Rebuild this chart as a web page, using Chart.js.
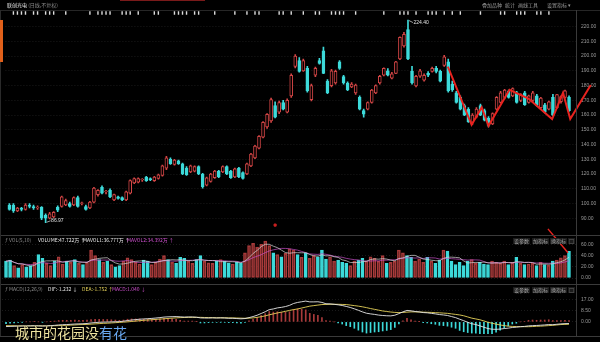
<!DOCTYPE html>
<html><head><meta charset="utf-8">
<script src="https://cdn.jsdelivr.net/npm/chart.js@4.4.1/dist/chart.umd.min.js"></script>
<style>
html,body{margin:0;padding:0;background:#000;width:600px;height:342px;overflow:hidden;}
#wrap{position:relative;width:600px;height:342px;background:#000;font-family:"Noto Sans CJK SC","Liberation Sans",sans-serif;}
canvas{position:absolute;left:0;}
.t{position:absolute;white-space:nowrap;font-size:5px;line-height:6px;color:#9a9a9a;}
.ln{position:absolute;background:#3a3a3a;}
.btn{position:absolute;font-size:5px;line-height:6px;color:#aaa;background:#1b1b1b;padding:0 1px;white-space:nowrap;}
#wm{position:absolute;left:15px;top:324px;font-size:14px;line-height:17px;font-family:"Noto Sans CJK SC",sans-serif;text-shadow:0 0 2px #000,1px 1px 1px #000;white-space:nowrap;}
</style></head>
<body><div id="wrap">
<canvas id="main" width="600" height="237" style="top:0"></canvas>
<canvas id="vol" width="600" height="60" style="top:226px"></canvas>
<canvas id="macd" width="600" height="58" style="top:284px"></canvas>

<div class="ln" style="left:0;top:10px;width:600px;height:1px;background:#262626"></div>
<div class="ln" style="left:0;top:235px;width:600px;height:1px"></div>
<div class="ln" style="left:0;top:284px;width:600px;height:1px"></div>
<div class="ln" style="left:0;top:336px;width:600px;height:1px"></div>
<div class="ln" style="left:576px;top:10px;width:1px;height:326px"></div>
<div class="ln" style="left:0;top:10px;width:1px;height:326px;background:#2a2a2a"></div>
<div class="ln" style="left:0;top:20px;width:3px;height:42px;background:#e0601a"></div>
<div class="ln" style="left:120px;top:0;width:85px;height:1px;background:#7a1a1a"></div>

<div class="t" style="left:7px;top:2px;color:#e6e6e6">联创光电 <span style="color:#8a8a8a">(日线,不复权)</span></div>
<div class="t" style="left:482px;top:2px">叠加品种</div>
<div class="t" style="left:505px;top:2px">统计</div>
<div class="t" style="left:518px;top:2px">画线工具</div>
<div class="t" style="left:547px;top:2px">设置指标 ▾</div>

<div class="t" style="left:5px;top:237px;color:#8a8a8a">ƒ VOL(5,10)</div>
<div class="t" style="left:38px;top:237px;color:#e8e8e8">VOLUME:47.722万 ↑</div>
<div class="t" style="left:83px;top:237px;color:#e8e8e8">MAVOL1:36.777万 ↑</div>
<div class="t" style="left:127px;top:237px;color:#d050d0">MAVOL2:34.392万 ↑</div>
<div class="btn" style="left:513px;top:238px">设参数</div>
<div class="btn" style="left:532px;top:238px">加指标</div>
<div class="btn" style="left:550px;top:238px">换指标</div>
<div class="btn" style="left:568px;top:238px">□</div>

<div class="t" style="left:5px;top:286px;color:#8a8a8a">ƒ MACD(12,26,9)</div>
<div class="t" style="left:48px;top:286px;color:#e8e8e8">DIF:-1.232 ↓</div>
<div class="t" style="left:82px;top:286px;color:#e6d35a">DEA:-1.752 ↑</div>
<div class="t" style="left:112px;top:286px;color:#d050d0">MACD:1.040 ↓</div>
<div class="btn" style="left:513px;top:287px">设参数</div>
<div class="btn" style="left:532px;top:287px">加指标</div>
<div class="btn" style="left:550px;top:287px">换指标</div>
<div class="btn" style="left:568px;top:287px">□</div>

<div id="wm"><span style="color:#efe4a0">城市的花园没</span><span style="color:#6aa8f0">有花</span></div>
</div>
<script>
// ---------- data ----------
const opens  = [99,99,95,97,96,99,98,97,97.5,92, 90,91,97.5,98,99,100,99,104,100,98, 97,101,106,111,108,109,102.5,104.5,104,102.5,
  107,114,114.5,116,118,117,115.5,117,119,124, 130,126.5,129,127,124,121.5,122,125,120,112.5, 115,117.5,122,121.5,125,122,118,124,121,120,
  125.5,131,137.5,145,152,156,166.5,162,168.5,162, 173,193,197,190,191.6,170.5,187,197,203.5,183, 180,181.7,196,186,181.7,179,175,172,163,164,
  168.5,175,181.7,187,190,185,188.3,198,206.8,218, 189.6,179.7,186.3,183.7,188.3,189.6,191.6,189.6,193.6,196, 181,175,172,166.5,164,155,158.6,166.5,163,158,
  154,164,168.5,172,176,173,175,170,175,168.5, 170,173,165,167,164,172,165,169,172,172];
const highs  = [100,100,97.5,97.5,100,100,99,98.5,98,93, 94,94.5,98.5,105,103,101,104.5,105,101,99, 101.5,111,109.5,112,109,110,106.5,105,104.5,108.5,
  116,117.5,117.5,117,118.5,117.5,118.5,120,126,132, 131,130,129.5,127.5,125,126,125.5,125.5,120.5,118, 120.5,122.5,122.5,125.5,125.5,122.5,124,124.5,121.5,127.5,
  134,139.5,146,155.5,161,171.5,169,169.5,170,171, 188,201,199,198,193,181,192.5,198.5,206,184, 191,190.5,197,187,182.5,182,181,173,164,169,
  177.5,180.5,187,192,191.5,189,196.5,213,216,224.4, 193,187,191,188,189.5,192.5,193,190.5,200.5,198, 183,176,173,167.5,165,161,165,167.5,164,159,
  161.5,172.5,176,177.5,177,178.5,176,174.5,176,173.5, 176,174,172,168,169.5,174,174,173,177,173];
const lows   = [95.5,94,94.5,95,95.5,97,96,96,89,86.97, 89.5,90.5,94.5,97.5,98.5,97.5,98.5,97.5,99,95.5, 96.5,100.5,105,106.5,106.5,104,102,103,102,102,
  106.5,113.5,114,115,115,115.5,115,116.5,118.5,123, 126.5,126,126.5,119.5,119,121,121.5,119.5,110.5,112, 114.5,117,117.5,121,119.5,117,117.5,117.5,116.5,119.5,
  125,130.5,137,144.5,151,155,158,161,163.5,161.5, 172,192,189,189.5,175.5,169.5,186,194.5,188,174.5, 179,181,191,181,176.5,178.5,174,163.5,158.6,163.5,
  168,174.5,181,186.5,186.5,184.5,188,197.5,206,197.5, 181,179,185.5,183,186,189,188.5,182.5,193,175.5, 176,168,163.5,159.5,155,153.4,158,159.5,156,152,
  153.5,163.5,168,171,171.5,172.5,168,169,166.5,168, 169,166,164.5,161.5,163.5,159.5,164.5,168,171.5,162.5];
const closes = [96,95,97,96,99,98,97,97.5,90,90, 93,94,95.5,104.5,102,98,104,98,100.5,96, 101,110.5,109,107,108.5,104.5,106,103.5,102.5,108,
  115.5,117,117,116.5,115.5,116,118,119.5,125.5,131, 127,129.5,127,120,119.5,125.5,125,120,111.5,117.5, 120,122,118,125,120,117.5,123.5,118,117,127,
  133.5,139,145.5,155,160.5,170.5,158.6,168.5,164,170, 187,200,189.6,197,176.4,180,191.6,195,188.3,175, 190,189.6,191.6,181.7,177,181,180.4,164,160.6,168.5,
  177,180,186.3,191.6,187,188,196,212.7,214.7,198, 181.7,186.3,190,187,187,191.6,189.6,183,199.5,176.4, 177,168.5,164,160,155.5,160,164,160,156.5,153,
  161,172,175,177,172,178,168.5,174,167,173, 175,166.5,171.5,162,169,160,173.8,172.5,176.4,163];
const volumes = [30,32,22,18,24,20,22,28,42,35, 26,22,30,38,25,30,28,33,26,24, 28,50,40,33,28,30,24,20,22,30,
  36,33,28,25,32,30,24,28,34,40, 33,28,26,37,35,30,26,33,40,30, 27,26,30,33,30,27,25,28,26,45,
  58,62,55,60,66,58,45,42,38,44, 52,50,42,37,45,35,40,38,50,34, 38,30,32,28,26,22,30,32,35,30,
  38,35,30,40,26,28,30,50,45,40, 37,30,34,28,37,30,26,32,50,48, 30,24,28,22,30,33,26,28,25,24,
  30,28,26,30,24,28,37,26,24,25, 26,22,28,24,23,30,32,36,40,47.722];
const dif = [-3.5,-3.4,-3.3,-3.2,-3.1,-3.0,-3.0,-2.9,-3.0,-3.1, -3.0,-2.8,-2.6,-2.3,-2.1,-2.0,-1.8,-1.6,-1.5,-1.4,
  -1.2,-0.8,-0.5,-0.3,-0.2,-0.1,0.0,0.1,0.2,0.5, 1.0,1.4,1.7,2.0,2.2,2.4,2.6,2.9,3.2,3.6,
  3.8,3.9,4.0,3.8,3.6,3.7,3.7,3.5,3.0,2.9, 2.9,3.0,2.9,3.0,2.9,2.7,2.7,2.5,2.3,2.5,
  3.2,4.0,5.0,6.3,7.6,9.2,9.7,10.5,10.9,11.5, 12.4,13.8,14.6,15.1,15.6,15.0,15.0,15.1,14.6,13.6,
  13.5,13.2,12.8,12.3,11.6,10.8,9.8,8.7,7.5,6.5, 6.0,5.6,5.1,4.8,4.6,4.5,5.0,6.2,7.5,8.6,
  8.3,7.8,7.5,7.0,6.8,6.4,6.0,5.5,5.2,4.8, 4.0,3.2,2.0,0.9,-0.3,-1.4,-2.0,-3.0,-4.0,-5.0,
  -5.5,-5.6,-5.4,-5.0,-4.7,-4.2,-4.0,-3.6,-3.4,-3.0, -2.8,-2.7,-2.5,-2.3,-2.0,-2.1,-1.8,-1.5,-1.3,-1.232];
const dea = [-2.8,-2.9,-2.9,-3.0,-3.0,-3.0,-3.0,-3.0,-3.0,-3.0, -3.0,-2.9,-2.9,-2.8,-2.7,-2.6,-2.4,-2.3,-2.1,-2.0,
  -1.9,-1.7,-1.5,-1.3,-1.1,-1.0,-0.8,-0.6,-0.4,-0.2, 0.0,0.3,0.6,0.9,1.2,1.4,1.6,1.9,2.1,2.3,
  2.6,2.8,3.0,3.2,3.3,3.4,3.4,3.4,3.4,3.3, 3.2,3.2,3.1,3.1,3.1,3.0,3.0,2.9,2.8,2.7,
  2.8,3.0,3.4,3.9,4.5,5.3,6.0,6.7,7.3,7.9, 8.6,9.2,9.7,10.4,11.1,11.8,12.2,12.6,13.0,13.1,
  13.2,13.2,13.2,13.1,13.0,12.6,12.2,11.8,11.3,10.7, 10.0,9.4,8.8,8.2,7.8,7.4,7.1,7.0,7.1,7.3,
  7.5,7.5,7.4,7.3,7.2,7.1,6.9,6.8,6.6,6.4, 6.0,5.6,5.2,4.6,3.7,2.8,2.2,1.6,0.7,-0.3,
  -1.0,-1.7,-2.3,-2.8,-3.2,-3.4,-3.5,-3.6,-3.6,-3.6, -3.5,-3.3,-3.2,-3.0,-2.8,-2.6,-2.3,-2.0,-1.9,-1.752];
const priceTicks = [90,100,110,120,130,140,150,160,170,180,190,200,210,220];
const volTicks = [0,20,40,60];
const macdTicks = [0,8.5,17];
const monthPos = [39,59,79,100,118,133];
const monthLabels = ['06','07','08','09','10','11'];
const markerIdx = [1,2,3,4,6,7,9,10,11,14,20,22,23,24,25,28,29,30,32,36,37,41,42,43,44,46,47,51,56,59,61,62,67,68,70,73,76,77,80,81,82,83,86,93,97,98,99,101,104,105,106,108,110,112,117,122,123,126,127,128,131,132,134];
const markerPrice = 229.2;
const eventMark = {x: 66, y: 85.4};
const zigzagX = [108.9,114.8,117.3,119.0,124.2,128.9,134.8,137.5,139.3,144.4];
const zigzagY = [192.9,153.4,165.2,152.7,177.1,171.2,157.3,175.1,157.3,180.4];
const arrowX = [133.8,138.75];
const arrowY = [87.7,45];

// ---------- styling ----------
const RED='#d24545', VRED='#a83a3a', CYAN='#3ddada', N=closes.length;
const X_MIN=-0.99, X_MAX=N-1+1.73;
const idx=[...Array(N).keys()];
const up=idx.map(i=>closes[i]>=opens[i]);
function ma(arr,n){return arr.map((v,i)=>{const s=arr.slice(Math.max(0,i-n+1),i+1);return s.reduce((a,b)=>a+b,0)/s.length;});}
const mav1=ma(volumes,5), mav2=ma(volumes,10);
const hist=idx.map(i=>2*(dif[i]-dea[i]));
const tickFont={size:5,family:'Liberation Sans'};
const gridCfg={color:'rgba(255,255,255,0.10)',drawTicks:false,lineWidth:1};
function yAxis(min,max,ticks,fmt){return {position:'right',min,max,afterFit(s){s.width=24;},
  afterBuildTicks(s){s.ticks=ticks.map(v=>({value:v}));},
  ticks:{color:'#9a9a9a',font:tickFont,padding:5,autoSkip:false,callback:v=>fmt(v)},
  grid:gridCfg,border:{display:false,dash:[1,2]}};}
const xHidden={type:'linear',min:X_MIN,max:X_MAX,display:false,offset:false};
const base={responsive:false,animation:false,events:[],plugins:{legend:{display:false},tooltip:{enabled:false}}};

const extrema={id:'extrema',afterDatasetsDraw(chart){
  const {ctx,scales:{x,y}}=chart;
  const hi=highs.indexOf(Math.max(...highs)), lo=lows.indexOf(Math.min(...lows));
  ctx.save();ctx.font='5px "Liberation Sans"';ctx.fillStyle='#e0e0e0';ctx.strokeStyle='#e0e0e0';ctx.lineWidth=0.7;ctx.textBaseline='middle';
  let px=x.getPixelForValue(hi), py=y.getPixelForValue(highs[hi]);
  ctx.beginPath();ctx.moveTo(px+1,py+0.5);ctx.lineTo(px+5,py+2.5);ctx.stroke();
  ctx.fillText(highs[hi].toFixed(2),px+5.5,py+2.5);
  px=x.getPixelForValue(lo); py=y.getPixelForValue(lows[lo]);
  ctx.beginPath();ctx.moveTo(px+1,py-0.5);ctx.lineTo(px+5,py-2);ctx.stroke();
  ctx.fillText(lows[lo].toFixed(2),px+5.5,py-2);
  ctx.restore();}};

new Chart(document.getElementById('main'),{
  data:{datasets:[
    {type:'scatter',data:markerIdx.map(i=>({x:i,y:markerPrice})),pointStyle:'line',rotation:90,radius:1.8,borderColor:'#dddddd',borderWidth:1.4,order:0},
    {type:'scatter',data:[eventMark],pointStyle:'rect',radius:1.5,backgroundColor:'#c82020',borderColor:'#c82020',order:0},
    {type:'line',data:zigzagX.map((v,k)=>({x:v,y:zigzagY[k]})),borderColor:'#e8231f',borderWidth:2,pointRadius:0,clip:false,order:0},
    {type:'bar',data:idx.map(i=>({x:i,y:[opens[i],closes[i]]})),backgroundColor:idx.map(i=>up[i]?'#000':CYAN),
      borderColor:idx.map(i=>up[i]?RED:CYAN),borderWidth:1,borderSkipped:false,barThickness:3,grouped:false,order:1},
    {type:'bar',data:idx.map(i=>({x:i,y:[lows[i],highs[i]]})),backgroundColor:idx.map(i=>up[i]?RED:CYAN),barThickness:1,grouped:false,order:2}
  ]},
  options:{...base,layout:{padding:{left:2,top:10,bottom:2,right:0}},
    scales:{x:xHidden,y:yAxis(82.74,231.22,priceTicks,v=>v.toFixed(2))}},
  plugins:[extrema]
});

new Chart(document.getElementById('vol'),{
  data:{datasets:[
    {type:'line',data:arrowX.map((v,k)=>({x:v,y:arrowY[k]})),borderColor:'#e8231f',borderWidth:1.5,pointRadius:0,clip:false,order:0},
    {type:'line',data:idx.map(i=>({x:i,y:mav1[i]})),borderColor:'#d8d8d8',borderWidth:0.7,pointRadius:0,order:0},
    {type:'line',data:idx.map(i=>({x:i,y:mav2[i]})),borderColor:'#c850c8',borderWidth:0.7,pointRadius:0,order:0},
    {type:'bar',data:idx.map(i=>({x:i,y:volumes[i]})),backgroundColor:idx.map(i=>up[i]?'rgba(0,0,0,0)':CYAN),
      borderColor:idx.map(i=>up[i]?VRED:CYAN),borderWidth:1,borderSkipped:false,barThickness:3,order:1}
  ]},
  options:{...base,layout:{padding:{left:2,top:10,bottom:2.5,right:0}},
    scales:{x:xHidden,y:yAxis(0,75,volTicks,v=>v.toFixed(2))}}
});

new Chart(document.getElementById('macd'),{
  data:{datasets:[
    {type:'line',data:idx.map(i=>({x:i,y:dif[i]})),borderColor:'#e6e6e6',borderWidth:0.9,pointRadius:0,order:0},
    {type:'line',data:idx.map(i=>({x:i,y:dea[i]})),borderColor:'#e6d35a',borderWidth:0.9,pointRadius:0,order:0},
    {type:'bar',data:idx.map(i=>({x:i,y:hist[i]})),backgroundColor:idx.map(i=>hist[i]>=0?VRED:CYAN),barThickness:1,order:1}
  ]},
  options:{...base,layout:{padding:{left:2,top:0,bottom:0,right:0}},
    scales:{
      x:{type:'linear',min:X_MIN,max:X_MAX,offset:false,position:'bottom',afterFit(s){s.height=6;},
        afterBuildTicks(s){s.ticks=monthPos.map(v=>({value:v}));},
        ticks:{color:'#9a9a9a',font:tickFont,padding:0,autoSkip:false,maxRotation:0,
          callback:(v)=>{const k=monthPos.indexOf(v);return k>=0?monthLabels[k]:'';}},
        grid:{display:false},border:{display:false}},
      y:yAxis(-9.09,22.42,macdTicks,v=>v.toFixed(2))}}
});
</script>
</body></html>
